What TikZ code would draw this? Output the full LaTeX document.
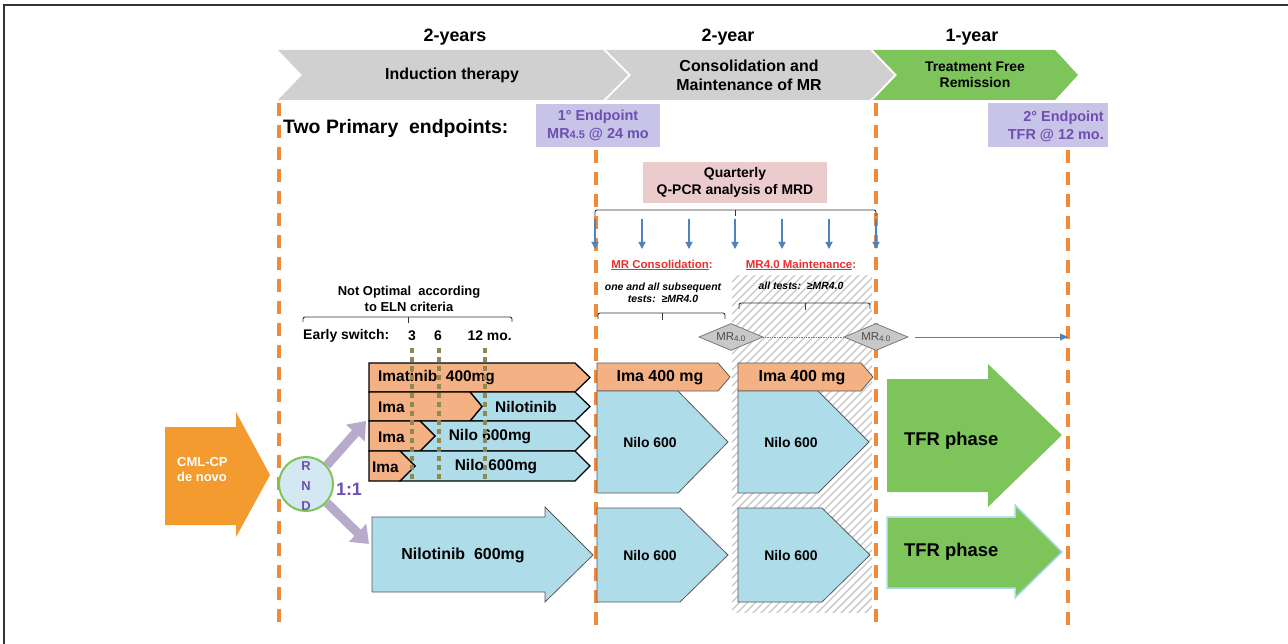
\documentclass[tikz,border=0pt]{standalone}
\usepackage{fontspec}
\setmainfont{Liberation Sans}
\usetikzlibrary{arrows.meta,shapes.geometric}
\definecolor{chevgray}{HTML}{D0D0D0}
\definecolor{tgreen}{HTML}{7DC45A}
\definecolor{dashorange}{HTML}{EE8A3A}
\definecolor{barorange}{HTML}{F4B183}
\definecolor{barblue}{HTML}{AEDCE8}
\definecolor{lav}{HTML}{C8C4E8}
\definecolor{purpletext}{HTML}{6E4EB0}
\definecolor{pinkbox}{HTML}{EBCBCB}
\definecolor{cmlorange}{HTML}{F39B2E}
\definecolor{rndfill}{HTML}{D3E8F0}
\definecolor{arrowpurple}{HTML}{B8AACA}
\definecolor{olive}{HTML}{8C8A50}
\definecolor{arrowblue}{HTML}{4F81BD}
\definecolor{redtxt}{HTML}{E8302F}
\definecolor{hatchgray}{HTML}{C6C6C6}
\definecolor{diamfill}{HTML}{C8C8C8}
\definecolor{diamline}{HTML}{7A7A7A}
\definecolor{tfredge}{HTML}{A8DCEC}
\newcommand\myfs[2]{\fontsize{#1}{#2}\selectfont}
\begin{document}
\begin{tikzpicture}[x=1bp,y=-1bp,inner sep=0pt,
  txt/.style={font=\bfseries\myfs{16}{19}, align=center},
  bartxt/.style={font=\bfseries\myfs{15.5}{18}},
  ptxt/.style={font=\bfseries\myfs{14.5}{18}, text=purpletext, align=center},
  dashv/.style={draw=dashorange, line width=4bp, dash pattern=on 13bp off 9bp},
  olived/.style={draw=olive, line width=4bp, dash pattern=on 5bp off 4bp},
  obar/.style={fill=barorange, draw=black, line width=1.3bp},
  bbar/.style={fill=barblue, draw=black, line width=1.3bp},
  cobar/.style={fill=barorange, draw=black!65, line width=0.8bp},
  cbbar/.style={fill=barblue, draw=black!65, line width=0.8bp},
  bracestyle/.style={draw=black!80, line width=0.9bp, rounded corners=2bp},
  bluearr/.style={draw=arrowblue, line width=1.2bp, -{Triangle[length=7bp,width=7bp]}},
  purarr/.style={draw=arrowpurple, line width=9bp, -{Triangle[length=16bp,width=24bp]}},
  diam/.style={shape=diamond, aspect=2.4, minimum width=64bp, minimum height=27bp, fill=diamfill, draw=diamline, line width=0.8bp, font=\myfs{11.5}{12}, text=black!70}
]
\useasboundingbox (0,0) rectangle (1288,644);
% frame
\draw[black!80, line width=1.5bp] (4,644) -- (4,5) -- (1288,5);

% top chevrons
\fill[chevgray] (278,50) -- (603,50) -- (628,75) -- (603,100) -- (278,100) -- (302,75) -- cycle;
\fill[chevgray] (606,50) -- (870,50) -- (894,75) -- (870,100) -- (606,100) -- (631,75) -- cycle;
\fill[tgreen] (873,50) -- (1055,50) -- (1078,75) -- (1055,100) -- (873,100) -- (897,75) -- cycle;
\node[txt, font=\bfseries\myfs{18}{20}] (y1) at (455,37) {2-years};
\node[txt, font=\bfseries\myfs{18}{20}] (y2) at (728,37) {2-year};
\node[txt, font=\bfseries\myfs{18}{20}] (y3) at (972,37) {1-year};
\node[txt] (ind) at (452,75) {Induction therapy};
\node[txt] (cons) at (749,75) {Consolidation and\\Maintenance of MR};
\node[txt, font=\bfseries\myfs{14}{16.5}] (tfr) at (975,75) {Treatment Free\\Remission};

% hatch
\begin{scope}
\clip (732,276) rectangle (872,612);
\foreach \a in {392,400,...,880} \draw[hatchgray, line width=1.4bp] (\a,614) -- ({\a+342},272);
\end{scope}

% dashed verticals
\draw[dashv] (279,103) -- (279,622);
\draw[dashv] (596,150) -- (596,630);
\draw[dashv] (876,103) -- (876,626);
\draw[dashv] (1068,150) -- (1068,626);

% endpoints
\node[font=\bfseries\myfs{19.5}{22}, anchor=west] (two) at (283,128) {Two Primary\ \ endpoints:};
\node[fill=lav, minimum width=124bp, minimum height=43bp, ptxt] (ep1) at (598,125.5) {1° Endpoint\\MR{\myfs{11}{11}4.5} @ 24 mo};
\node[fill=lav, minimum width=120bp, minimum height=44bp] (ep2) at (1048,125) {};
\node[ptxt, align=right, anchor=east] (ep2t) at (1104,126) {2° Endpoint\\TFR @ 12 mo.};

% quarterly
\node[fill=pinkbox, minimum width=184bp, minimum height=41bp, txt, font=\bfseries\myfs{14}{17}] (q) at (735,182.5) {Quarterly\\Q-PCR analysis of MRD};
\draw[bracestyle] (595,216) -- (595,210) -- (876,210) -- (876,216);
\draw[bracestyle] (735,210) -- (735,216);
\foreach \x in {595,642,689,735,782,829,876} \draw[bluearr] (\x,219) -- (\x,249);

% MR consolidation / maintenance
\node[font=\bfseries\myfs{11.5}{13}, text=redtxt] (mrc) at (662,265) {\underline{MR Consolidation}:};
\node[font=\bfseries\myfs{11.5}{13}, text=redtxt] (mrm) at (801,265) {\underline{MR4.0 Maintenance}:};
\node[font=\bfseries\itshape\myfs{10.5}{12.5}, align=center] (mrct) at (663,293) {one and all subsequent\\tests:\ \ ≥MR4.0};
\node[font=\bfseries\itshape\myfs{10.5}{12.5}] (mrmt) at (801,286) {all tests:\ \ ≥MR4.0};
\draw[bracestyle] (598,319) -- (598,313) -- (725,313) -- (725,319);
\draw[bracestyle] (662,313) -- (662,320);
\draw[bracestyle] (739,309) -- (739,303) -- (870,303) -- (870,309);
\draw[bracestyle] (805,303) -- (805,310);

% diamonds
\node[diam] (d1) at (731,337) {MR\textsubscript{4.0}};
\node[diam] (d2) at (876,337) {MR\textsubscript{4.0}};
\draw[arrowblue, line width=0.7bp, densely dotted] (d1.east) -- (d2.west);
\coordinate (tfrend) at (1068,337);
\draw[arrowblue, line width=1bp, -{Triangle[length=8bp,width=7bp]}] ([xshift=7bp]d2.east) -- (tfrend);

% Not optimal
\node[txt, font=\bfseries\myfs{13}{15.5}] (notopt) at (409,299) {Not Optimal\ \ according\\to ELN criteria};
\draw[bracestyle] (303,322) -- (303,317) -- (512,317) -- (512,322);
\draw[bracestyle] (408,317) -- (408,323);
\node[font=\bfseries\myfs{14}{16}, anchor=west] (es) at (303,336) {Early switch:};
\node[font=\bfseries\myfs{14}{16}] (m3) at (412,336) {3};
\node[font=\bfseries\myfs{14}{16}] (m6) at (438,336) {6};
\node[font=\bfseries\myfs{14}{16}, anchor=east] (m12) at (512,336) {12 mo.};

% induction bars
\path[obar] (369,363) -- (575,363) -- (590,377.5) -- (575,392) -- (369,392) -- cycle;
\path[bbar] (470,392) -- (575,392) -- (590,406.5) -- (575,421) -- (470,421) -- (482,406.5) -- cycle;
\path[obar] (369,392) -- (470,392) -- (482,406.5) -- (470,421) -- (369,421) -- cycle;
\path[bbar] (420,421) -- (575,421) -- (590,436) -- (575,451) -- (420,451) -- (435,436) -- cycle;
\path[obar] (369,421) -- (420,421) -- (435,436) -- (420,451) -- (369,451) -- cycle;
\path[bbar] (400,451) -- (575,451) -- (590,466) -- (575,481) -- (400,481) -- (415,466) -- cycle;
\path[obar] (369,451) -- (400,451) -- (415,466) -- (400,481) -- (369,481) -- cycle;
\node[bartxt, anchor=west] (r1) at (378,378) {Imatinib\ \ 400mg};
\node[bartxt, anchor=west] (r2a) at (378,407) {Ima};
\node[bartxt] (r2b) at (526,407) {Nilotinib};
\node[bartxt, anchor=west] (r3a) at (378,437) {Ima};
\node[bartxt] (r3b) at (490,437) {Nilo 600mg};
\node[bartxt, anchor=west] (r4a) at (372,467) {Ima};
\node[bartxt] (r4b) at (496,467) {Nilo 600mg};
\foreach \x in {412,439,485} \draw[olived] (\x,348) -- (\x,481);

% consolidation / maintenance bars
\path[cobar] (597,363) -- (718,363) -- (730,377) -- (718,391) -- (597,391) -- cycle;
\path[cbbar] (597,391) -- (678,391) -- (728,442) -- (678,493) -- (597,493) -- cycle;
\path[cobar] (738,363) -- (861,363) -- (873,377) -- (861,391) -- (738,391) -- cycle;
\path[cbbar] (738,391) -- (818,391) -- (869,442) -- (818,493) -- (738,493) -- cycle;
\path[cbbar] (597,508) -- (680,508) -- (728,555) -- (680,602) -- (597,602) -- cycle;
\path[cbbar] (738,508) -- (822,508) -- (870,555) -- (822,602) -- (738,602) -- cycle;
\node[bartxt, font=\bfseries\myfs{16}{18}] (ci) at (660,378) {Ima 400 mg};
\node[bartxt, font=\bfseries\myfs{16}{18}] (mi) at (802,378) {Ima 400 mg};
\node[bartxt, font=\bfseries\myfs{14}{16}] (cn) at (650,443) {Nilo 600};
\node[bartxt, font=\bfseries\myfs{14}{16}] (mn) at (791,443) {Nilo 600};
\node[bartxt, font=\bfseries\myfs{14}{16}] (cn2) at (650,556) {Nilo 600};
\node[bartxt, font=\bfseries\myfs{14}{16}] (mn2) at (791,556) {Nilo 600};

% Nilotinib 600mg arrow
\path[fill=barblue, draw=black!65, line width=0.8bp] (372,517) -- (545,517) -- (545,507) -- (593,555) -- (545,602) -- (545,592) -- (372,592) -- cycle;
\node[bartxt, font=\bfseries\myfs{16}{18}] (nil) at (463,555) {Nilotinib\ \ 600mg};

% TFR arrows
\fill[tgreen] (887,379) -- (988,379) -- (988,364) -- (1062,435) -- (988,507) -- (988,492) -- (887,492) -- cycle;
\path[fill=tgreen, draw=tfredge, line width=1.5bp] (887,517) -- (1015,517) -- (1015,505) -- (1062,552) -- (1015,598) -- (1015,588) -- (887,588) -- cycle;
\node[font=\bfseries\myfs{18.5}{20}, anchor=west] (tfr1) at (904,441) {TFR phase};
\node[font=\bfseries\myfs{18.5}{20}, anchor=west] (tfr2) at (904,552) {TFR phase};

% CML-CP arrow
\fill[cmlorange] (165,427) -- (236,427) -- (236,412) -- (270,475) -- (236,537) -- (236,525) -- (165,525) -- cycle;
\node[font=\bfseries\myfs{13}{15}, text=white, align=left, anchor=west] (cml) at (177,470) {CML-CP\\de novo};

% RND
\node[circle, fill=rndfill, draw=tgreen, line width=2bp, minimum size=54bp] (rnd) at (306,484) {};
\node[font=\bfseries\myfs{13}{20}, text=purpletext, align=center] (rndt) at (306,486) {R\\N\\D};
\node[font=\bfseries\myfs{18}{20}, text=purpletext] (ratio) at (349,489) {1:1};
\coordinate (pu1) at (366,421);
\coordinate (pu2) at (369,544);
\draw[purarr] (rnd.42) -- (pu1);
\draw[purarr] (rnd.-42) -- (pu2);
\end{tikzpicture}
\end{document}
